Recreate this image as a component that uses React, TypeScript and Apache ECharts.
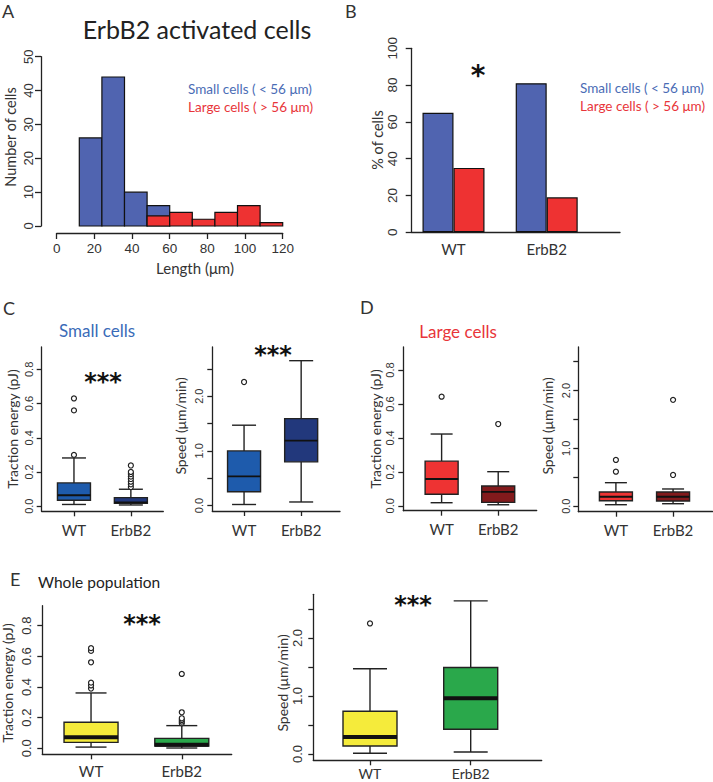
import React, { useEffect, useRef } from "react";
import * as echarts from "echarts";

// ---------- DATA ----------
const histBinEdges = [12, 24, 36, 48, 60, 72, 84, 96, 108, 120];
const histSmallCounts = [26, 44, 10, 6, 0, 0, 0, 0, 0];
const histLargeCounts = [0, 0, 0, 3, 4, 2, 4, 6, 1];

const groups = ["WT", "ErbB2"];
const pctSmall = [65, 81];
const pctLarge = [35, 19];

// boxes: [min, q1, median, q3, max]
const smallEnergyBoxes = [
  [0.01, 0.035, 0.064, 0.136, 0.282],
  [0.007, 0.017, 0.022, 0.05, 0.099],
];
const smallEnergyOutliers = [
  [0.3, 0.56, 0.63],
  [0.112, 0.128, 0.143, 0.159, 0.173, 0.188, 0.2, 0.238],
];
const smallSpeedBoxes = [
  [0.02, 0.254, 0.535, 1.0, 1.47],
  [0.066, 0.8, 1.187, 1.59, 2.65],
];
const smallSpeedOutliers = [[2.26], []];
const largeEnergyBoxes = [
  [0.018, 0.068, 0.158, 0.263, 0.423],
  [0.006, 0.02, 0.082, 0.117, 0.201],
];
const largeEnergyOutliers = [[0.643], [0.482]];
const largeSpeedBoxes = [
  [0.026, 0.095, 0.164, 0.246, 0.407],
  [0.043, 0.09, 0.164, 0.246, 0.298],
];
const largeSpeedOutliers = [
  [0.597, 0.8],
  [0.54, 1.84],
];
const allEnergyBoxes = [
  [0.008, 0.039, 0.072, 0.17, 0.361],
  [0.002, 0.015, 0.024, 0.065, 0.148],
];
const allEnergyOutliers = [
  [0.39, 0.41, 0.428, 0.561, 0.635, 0.653],
  [0.163, 0.174, 0.185, 0.196, 0.235, 0.485],
];
const allSpeedBoxes = [
  [0.012, 0.138, 0.293, 0.736, 1.47],
  [0.034, 0.426, 0.96, 1.49, 2.64],
];
const allSpeedOutliers = [[2.25], []];

const energyTicks = [0, 0.2, 0.4, 0.6, 0.8];
const speedTicks = [0, 0.5, 1, 1.5, 2, 2.5];
const speedLabels = [0, 1, 2];

// ---------- STYLE ----------
const TICK_FONT = "'Liberation Sans', Arial, sans-serif";
const TXT_FONT = "Lato, 'Open Sans', sans-serif";
const INK = "#222";
const TXT = "#333";
const BLUE = "#5064B0";
const RED = "#EE3232";
const BLUE_TXT = "#4A6CB5";
const RED_TXT = "#E8353A";

type BoxPanel = {
  left: number; top: number; right: number; bottom: number;
  xMin: number; xMax: number; yMin: number; yMax: number;
  yTicks: number[]; yLabels: number[];
  boxes: number[][]; outliers: number[][]; colors: string[];
  boxW: number; capW: number; medW: number;
  tickFont: number; yMargin: number; xMargin: number; xFont: number;
};

const panels: BoxPanel[] = [
  { left: 41.7, top: 347, right: 163.3, bottom: 511.3, xMin: 0.433, xMax: 2.57, yMin: -0.03, yMax: 0.931,
    yTicks: energyTicks, yLabels: energyTicks, boxes: smallEnergyBoxes, outliers: smallEnergyOutliers,
    colors: ["#1E5BAC", "#22387C"], boxW: 33, capW: 24, medW: 1.8, tickFont: 11, yMargin: 7, xMargin: 11, xFont: 15 },
  { left: 212.3, top: 347, right: 340, bottom: 511, xMin: 0.444, xMax: 2.68, yMin: -0.099, yMax: 2.9,
    yTicks: speedTicks, yLabels: speedLabels, boxes: smallSpeedBoxes, outliers: smallSpeedOutliers,
    colors: ["#1E5BAC", "#22387C"], boxW: 33, capW: 24, medW: 1.8, tickFont: 11, yMargin: 8, xMargin: 11, xFont: 15 },
  { left: 403.3, top: 347, right: 536.7, bottom: 510.7, xMin: 0.323, xMax: 2.68, yMin: -0.029, yMax: 0.936,
    yTicks: energyTicks, yLabels: energyTicks, boxes: largeEnergyBoxes, outliers: largeEnergyOutliers,
    colors: ["#EE3333", "#821A1C"], boxW: 33, capW: 22, medW: 1.8, tickFont: 11, yMargin: 8, xMargin: 11, xFont: 15 },
  { left: 578.3, top: 347, right: 712.5, bottom: 511.7, xMin: 0.342, xMax: 2.69, yMin: -0.095, yMax: 2.754,
    yTicks: speedTicks, yLabels: speedLabels, boxes: largeSpeedBoxes, outliers: largeSpeedOutliers,
    colors: ["#EE3333", "#821A1C"], boxW: 33, capW: 22, medW: 1.8, tickFont: 11, yMargin: 7, xMargin: 11, xFont: 15 },
  { left: 42.3, top: 605.7, right: 231.7, bottom: 754.3, xMin: 0.463, xMax: 2.55, yMin: -0.039, yMax: 0.93,
    yTicks: energyTicks, yLabels: energyTicks, boxes: allEnergyBoxes, outliers: allEnergyOutliers,
    colors: ["#F5EB3B", "#2AA84B"], boxW: 54, capW: 31, medW: 4, tickFont: 13, yMargin: 9, xMargin: 9, xFont: 15 },
  { left: 313.3, top: 594.3, right: 541.7, bottom: 760.3, xMin: 0.437, xMax: 2.705, yMin: -0.109, yMax: 2.753,
    yTicks: speedTicks, yLabels: speedLabels, boxes: allSpeedBoxes, outliers: allSpeedOutliers,
    colors: ["#F5EB3B", "#2AA84B"], boxW: 54, capW: 34, medW: 4, tickFont: 13, yMargin: 9, xMargin: 6, xFont: 14 },
];

function txt(text: string, x: number, y: number, size: number, fill: string, opts: any = {}) {
  const align = opts.align || "center";
  return {
    type: "text",
    x,
    y,
    rotation: opts.rot ? Math.PI / 2 : 0,
    silent: true,
    style: {
      text,
      fontSize: size,
      fontFamily: opts.font || TXT_FONT,
      fontWeight: opts.weight || "normal",
      fill,
      align,
      verticalAlign: "middle",
      textAlign: align,
      textVerticalAlign: "middle",
    },
  };
}

function buildOption() {
  const grids: any[] = [];
  const xAxes: any[] = [];
  const yAxes: any[] = [];
  const series: any[] = [];
  const axisLineStyle = { color: INK, width: 1.3 };

  // ---- Grid 0: histogram A ----
  grids.push({ left: 56.7, top: 56.7, width: 226, height: 169.3, outerBoundsMode: "none", containLabel: false });
  xAxes.push({
    gridIndex: 0, type: "value", min: 0, max: 120, interval: 20, offset: 7,
    axisLine: { show: true, onZero: false, lineStyle: axisLineStyle },
    axisTick: { show: true, length: 6, lineStyle: axisLineStyle },
    axisLabel: { show: true, margin: 8, fontSize: 13.5, color: TXT, fontFamily: TICK_FONT, showMinLabel: true, showMaxLabel: true },
    splitLine: { show: false },
  });
  yAxes.push({
    gridIndex: 0, type: "value", min: 0, max: 50, interval: 10, offset: 15.7,
    axisLine: { show: true, onZero: false, lineStyle: axisLineStyle },
    axisTick: { show: true, length: 6, lineStyle: axisLineStyle },
    axisLabel: { show: true, rotate: 90, margin: 6, fontSize: 13, color: TXT, fontFamily: TICK_FONT },
    splitLine: { show: false },
  });
  const histRender = (color: string) => (params: any, api: any) => {
    const p0 = api.coord([api.value(0), api.value(2)]);
    const p1 = api.coord([api.value(1), 0]);
    return {
      type: "rect",
      shape: { x: p0[0], y: p0[1], width: p1[0] - p0[0], height: p1[1] - p0[1] },
      style: { fill: color, stroke: "#111", lineWidth: 1.2 },
    };
  };
  const histRows = (counts: number[]) =>
    counts
      .map((c, i) => [histBinEdges[i], histBinEdges[i + 1], c])
      .filter((r) => r[2] > 0);
  series.push({
    type: "custom", xAxisIndex: 0, yAxisIndex: 0, renderItem: histRender(BLUE),
    data: histRows(histSmallCounts), encode: { x: [0, 1], y: 2 },
  });
  series.push({
    type: "custom", xAxisIndex: 0, yAxisIndex: 0, renderItem: histRender(RED),
    data: histRows(histLargeCounts), encode: { x: [0, 1], y: 2 },
  });

  // ---- Grid 1: B axes ----
  grids.push({ left: 411.7, top: 48.3, width: 208.3, height: 184, outerBoundsMode: "none", containLabel: false });
  xAxes.push({
    gridIndex: 1, type: "value", min: 0, max: 1,
    axisLine: { show: true, onZero: false, lineStyle: axisLineStyle },
    axisTick: { show: false }, axisLabel: { show: false }, splitLine: { show: false },
  });
  yAxes.push({
    gridIndex: 1, type: "value", min: 0, max: 100, interval: 20,
    axisLine: { show: true, onZero: false, lineStyle: axisLineStyle },
    axisTick: { show: true, length: 6, lineStyle: axisLineStyle },
    axisLabel: { show: true, rotate: 90, margin: 12, fontSize: 13.5, color: TXT, fontFamily: TICK_FONT },
    splitLine: { show: false },
  });
  // ---- Grid 2: B bars ----
  grids.push({ left: 406.9, top: 48.3, width: 186.4, height: 184, outerBoundsMode: "none", containLabel: false });
  xAxes.push({
    gridIndex: 2, type: "category", data: groups,
    axisLine: { show: false }, axisTick: { show: false },
    axisLabel: { show: true, margin: 9, fontSize: 15, color: TXT, fontFamily: TXT_FONT },
    splitLine: { show: false },
  });
  yAxes.push({
    gridIndex: 2, type: "value", min: 0, max: 100, show: false, splitLine: { show: false },
  });
  series.push({
    type: "bar", xAxisIndex: 2, yAxisIndex: 2, data: pctSmall, barWidth: 31, barGap: "0%",
    itemStyle: { color: BLUE, borderColor: "#111", borderWidth: 1.2 },
  });
  series.push({
    type: "bar", xAxisIndex: 2, yAxisIndex: 2, data: pctLarge, barWidth: 31, barGap: "0%",
    itemStyle: { color: RED, borderColor: "#111", borderWidth: 1.2 },
  });

  // ---- Box panels ----
  panels.forEach((p, k) => {
    const gi = 3 + k;
    grids.push({
      left: p.left, top: p.top, width: p.right - p.left, height: p.bottom - p.top,
      outerBoundsMode: "none", containLabel: false,
    });
    xAxes.push({
      gridIndex: gi, type: "value", min: p.xMin, max: p.xMax,
      axisLine: { show: true, onZero: false, lineStyle: axisLineStyle },
      axisTick: { show: true, length: 5, customValues: [1, 2], lineStyle: axisLineStyle },
      axisLabel: {
        show: true, customValues: [1, 2], margin: p.xMargin, fontSize: p.xFont, color: TXT, fontFamily: TXT_FONT,
        formatter: (v: number) => groups[Math.round(v) - 1] || "",
      },
      splitLine: { show: false },
    });
    yAxes.push({
      gridIndex: gi, type: "value", min: p.yMin, max: p.yMax,
      axisLine: { show: true, onZero: false, lineStyle: axisLineStyle },
      axisTick: { show: true, length: 5, customValues: p.yTicks, lineStyle: axisLineStyle },
      axisLabel: {
        show: true, customValues: p.yLabels, rotate: 90, margin: p.yMargin, fontSize: p.tickFont,
        color: TXT, fontFamily: TICK_FONT, formatter: (v: number) => v.toFixed(1),
      },
      splitLine: { show: false },
    });
    const colors = p.colors;
    const boxW = p.boxW, capW = p.capW, medW = p.medW;
    series.push({
      type: "custom", xAxisIndex: gi, yAxisIndex: gi,
      data: p.boxes.map((b, i) => [i + 1, ...b]),
      encode: { x: 0, y: [1, 2, 3, 4, 5] },
      renderItem: (params: any, api: any) => {
        const x = api.value(0);
        const pMin = api.coord([x, api.value(1)]);
        const pQ1 = api.coord([x, api.value(2)]);
        const pMed = api.coord([x, api.value(3)]);
        const pQ3 = api.coord([x, api.value(4)]);
        const pMax = api.coord([x, api.value(5)]);
        const cx = pMin[0];
        const hw = boxW / 2, hc = capW / 2;
        const ls = { stroke: INK, lineWidth: 1.4 };
        return {
          type: "group",
          children: [
            { type: "line", shape: { x1: cx, y1: pMin[1], x2: cx, y2: pQ1[1] }, style: ls },
            { type: "line", shape: { x1: cx, y1: pQ3[1], x2: cx, y2: pMax[1] }, style: ls },
            { type: "line", shape: { x1: cx - hc, y1: pMin[1], x2: cx + hc, y2: pMin[1] }, style: ls },
            { type: "line", shape: { x1: cx - hc, y1: pMax[1], x2: cx + hc, y2: pMax[1] }, style: ls },
            {
              type: "rect",
              shape: { x: cx - hw, y: pQ3[1], width: boxW, height: pQ1[1] - pQ3[1] },
              style: { fill: colors[params.dataIndex], stroke: INK, lineWidth: 1.4 },
            },
            {
              type: "line",
              shape: { x1: cx - hw, y1: pMed[1], x2: cx + hw, y2: pMed[1] },
              style: { stroke: "#111", lineWidth: medW },
            },
          ],
        };
      },
    });
    const outData: number[][] = [];
    p.outliers.forEach((arr, i) => arr.forEach((v) => outData.push([i + 1, v])));
    series.push({
      type: "scatter", xAxisIndex: gi, yAxisIndex: gi, data: outData,
      symbol: "circle", symbolSize: 5,
      itemStyle: { color: "#fff", borderColor: INK, borderWidth: 1.2, opacity: 1 },
    });
  });

  const starFont = "'DejaVu Sans', sans-serif";
  const graphic: any[] = [
    // Panel A
    txt("A", 2, 11, 18, TXT, { align: "left" }),
    txt("ErbB2 activated cells", 197, 29, 25, "#222"),
    txt("Small cells ( < 56 μm)", 188, 89, 13.5, BLUE_TXT, { align: "left" }),
    txt("Large cells ( > 56 μm)", 188, 107, 13.5, RED_TXT, { align: "left" }),
    txt("Length (μm)", 195, 268, 15, TXT),
    txt("Number of cells", 10, 137, 14.5, TXT, { rot: true }),
    // Panel B
    txt("B", 345, 11, 18, TXT, { align: "left" }),
    txt("*", 478, 75, 28, "#111", { font: starFont, weight: "bold" }),
    txt("% of cells", 377, 140, 14.5, TXT, { rot: true }),
    txt("Small cells ( < 56 μm)", 580, 88, 13.5, BLUE_TXT, { align: "left" }),
    txt("Large cells ( > 56 μm)", 580, 106, 13.5, RED_TXT, { align: "left" }),
    // Panel C
    txt("C", 3, 308, 18, TXT, { align: "left" }),
    txt("Small cells", 97, 330, 17, "#3A6BB8"),
    txt("Traction energy (pJ)", 12, 429, 14, TXT, { rot: true }),
    txt("Speed (μm/min)", 180, 426, 14, TXT, { rot: true }),
    txt("***", 103, 382, 24, "#111", { font: starFont, weight: "bold" }),
    txt("***", 273, 355, 24, "#111", { font: starFont, weight: "bold" }),
    // Panel D
    txt("D", 360, 307, 18, TXT, { align: "left" }),
    txt("Large cells", 458, 331, 17, "#E8353A"),
    txt("Traction energy (pJ)", 375, 429, 14, TXT, { rot: true }),
    txt("Speed (μm/min)", 547, 426, 14, TXT, { rot: true }),
    // Panel E
    txt("E", 10, 579, 18, TXT, { align: "left" }),
    txt("Whole population", 38, 582, 15.5, "#222", { align: "left" }),
    txt("Traction energy (pJ)", 7, 683, 14, TXT, { rot: true }),
    txt("Speed (μm/min)", 282, 683, 14, TXT, { rot: true }),
    txt("***", 142, 624, 24, "#111", { font: starFont, weight: "bold" }),
    txt("***", 413, 605, 24, "#111", { font: starFont, weight: "bold" }),
  ];

  return {
    animation: false,
    backgroundColor: "#fff",
    grid: grids,
    xAxis: xAxes,
    yAxis: yAxes,
    series,
    graphic,
  };
}

export default function App() {
  const ref = useRef<HTMLDivElement>(null);
  useEffect(() => {
    if (!ref.current) return;
    const chart = echarts.init(ref.current, undefined, { renderer: "svg" });
    chart.setOption(buildOption() as any);
    return () => chart.dispose();
  }, []);
  return (
    <div
      ref={ref}
      style={{ position: "fixed", left: 0, top: 0, width: 713, height: 782, background: "#fff" }}
    />
  );
}
